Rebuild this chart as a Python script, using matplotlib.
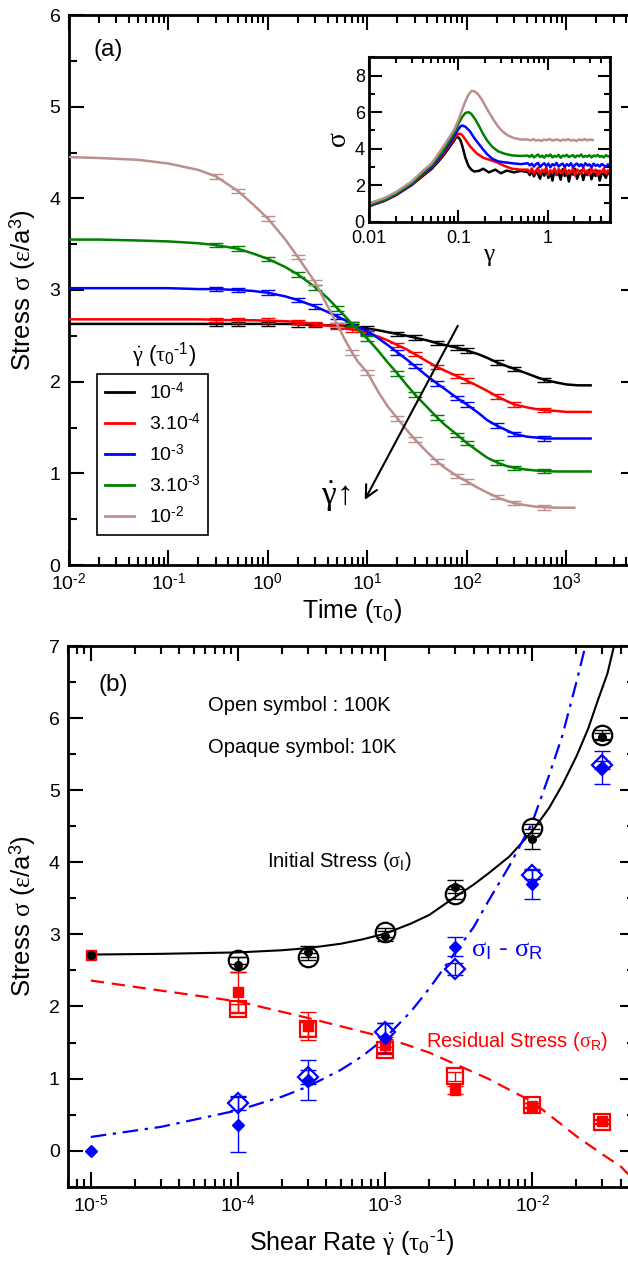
import numpy as np
import matplotlib
matplotlib.use("Agg")
import matplotlib.pyplot as plt
from matplotlib.ticker import (LogLocator, MultipleLocator, NullFormatter,
                               FixedLocator, FixedFormatter, FuncFormatter)

plt.rcParams.update({
    "font.family": ["Liberation Sans", "DejaVu Sans"],
    "mathtext.fontset": "custom",
    "mathtext.rm": "Liberation Sans",
    "mathtext.it": "Liberation Serif",
    "mathtext.bf": "Liberation Sans:bold",
    "axes.unicode_minus": False,
})

HY = "\u2010"  # short hyphen used in exponents

# ---------------------------------------------------------------- panel (a)
TIME = [0.01, 0.02, 0.05, 0.1, 0.2, 0.3, 0.5, 0.7, 1, 1.5, 2, 3, 4, 5, 6, 7, 8,
        10, 13, 16, 20, 25, 30, 40, 50, 60, 80, 100, 130, 160, 200, 250, 300,
        400, 500, 600, 800, 1000, 1300, 1750]
TIME_1E2 = [0.01, 0.02, 0.05, 0.1, 0.2, 0.3, 0.5, 0.7, 1, 1.5, 2, 3, 4, 5, 6, 7, 8,
            10, 13, 16, 20, 25, 30, 40, 50, 60, 80, 100, 130, 160, 200, 250, 300,
            400, 500, 600, 800, 1000, 1200]

STRESS_1E4 = [2.63, 2.63, 2.63, 2.63, 2.63, 2.63, 2.63, 2.63, 2.63, 2.63, 2.625,
              2.62, 2.615, 2.61, 2.605, 2.60, 2.595, 2.58, 2.56, 2.54, 2.52, 2.50,
              2.48, 2.45, 2.42, 2.40, 2.37, 2.34, 2.30, 2.26, 2.21, 2.17, 2.14,
              2.09, 2.05, 2.02, 1.99, 1.97, 1.96, 1.96]
STRESS_3E4 = [2.68, 2.68, 2.68, 2.68, 2.68, 2.675, 2.67, 2.67, 2.665, 2.66, 2.65,
              2.63, 2.61, 2.60, 2.58, 2.57, 2.56, 2.53, 2.49, 2.45, 2.40, 2.35,
              2.30, 2.22, 2.16, 2.12, 2.06, 2.01, 1.95, 1.90, 1.84, 1.79, 1.75,
              1.72, 1.70, 1.69, 1.68, 1.67, 1.67, 1.67]
STRESS_1E3 = [3.02, 3.02, 3.02, 3.02, 3.01, 3.01, 3.00, 2.99, 2.97, 2.93, 2.89,
              2.82, 2.76, 2.71, 2.67, 2.63, 2.60, 2.55, 2.47, 2.40, 2.32, 2.24,
              2.17, 2.06, 1.98, 1.92, 1.82, 1.75, 1.66, 1.58, 1.52, 1.47, 1.43,
              1.40, 1.39, 1.38, 1.38, 1.38, 1.38, 1.38]
STRESS_3E3 = [3.55, 3.55, 3.54, 3.53, 3.51, 3.49, 3.45, 3.40, 3.34, 3.25, 3.17,
              3.03, 2.91, 2.80, 2.71, 2.63, 2.57, 2.47, 2.33, 2.21, 2.09, 1.96,
              1.86, 1.72, 1.61, 1.53, 1.42, 1.33, 1.24, 1.17, 1.12, 1.08, 1.06,
              1.04, 1.03, 1.025, 1.02, 1.02, 1.02, 1.02]
STRESS_1E2 = [4.45, 4.44, 4.42, 4.38, 4.31, 4.24, 4.08, 3.94, 3.78, 3.55, 3.36,
              3.08, 2.82, 2.62, 2.45, 2.32, 2.22, 2.10, 1.88, 1.73, 1.60, 1.47,
              1.37, 1.23, 1.13, 1.06, 0.97, 0.91, 0.84, 0.79, 0.74, 0.70, 0.675,
              0.65, 0.635, 0.63, 0.625, 0.625, 0.625]

ERR_TIMES = [0.3, 0.5, 1, 2, 3, 5, 7, 10, 20, 30, 50, 80, 100, 200, 300, 600]
ERR_A = 0.025

RATE_LABELS = [r"10$^{%s4}$" % HY, r"3.10$^{%s4}$" % HY, r"10$^{%s3}$" % HY,
               r"3.10$^{%s3}$" % HY, r"10$^{%s2}$" % HY]
RATE_COLORS = ["black", "#ff0000", "#0000ff", "#008000", "#bc8f8f"]

# ---------------------------------------------------------------- inset
GAMMA_RISE = [0.01, 0.015, 0.02, 0.03, 0.04, 0.05, 0.06, 0.07, 0.08, 0.09]

RISE_1E4 = [0.85, 1.15, 1.45, 2.00, 2.50, 2.88, 3.30, 3.70, 4.10, 4.45]
RISE_3E4 = [0.85, 1.15, 1.47, 2.02, 2.55, 2.95, 3.38, 3.80, 4.20, 4.55]
RISE_1E3 = [0.87, 1.17, 1.50, 2.05, 2.60, 3.00, 3.45, 3.90, 4.30, 4.70]
RISE_3E3 = [0.90, 1.20, 1.53, 2.10, 2.65, 3.08, 3.55, 4.00, 4.45, 4.85]
RISE_1E2 = [1.00, 1.30, 1.62, 2.20, 2.78, 3.18, 3.72, 4.20, 4.65, 5.05]

PEAK_G_1E4 = [0.093, 0.097, 0.10, 0.105, 0.11, 0.115, 0.12, 0.13, 0.14, 0.15,
              0.17, 0.19, 0.22, 0.26, 0.30, 0.35, 0.42, 0.50]
PEAK_S_1E4 = [4.58, 4.63, 4.62, 4.50, 4.20, 3.85, 3.50, 3.05, 2.85, 2.75, 2.78,
              2.90, 2.70, 2.85, 2.65, 2.80, 2.70, 2.78]
PEAK_G_3E4 = [0.095, 0.10, 0.105, 0.11, 0.12, 0.13, 0.14, 0.16, 0.19, 0.22,
              0.27, 0.33, 0.40, 0.50]
PEAK_S_3E4 = [4.70, 4.80, 4.82, 4.75, 4.50, 4.25, 4.05, 3.75, 3.50, 3.40, 3.25,
              3.05, 2.90, 2.85]
PEAK_G_1E3 = [0.10, 0.105, 0.11, 0.12, 0.135, 0.15, 0.17, 0.19, 0.21, 0.24,
              0.28, 0.33, 0.40, 0.50]
PEAK_S_1E3 = [5.05, 5.20, 5.27, 5.20, 4.95, 4.60, 4.25, 3.95, 3.70, 3.45, 3.30,
              3.25, 3.20, 3.15]
PEAK_G_3E3 = [0.10, 0.11, 0.12, 0.13, 0.14, 0.155, 0.17, 0.19, 0.21, 0.24,
              0.28, 0.33, 0.40, 0.50]
PEAK_S_3E3 = [5.35, 5.72, 5.95, 6.00, 5.90, 5.60, 5.25, 4.80, 4.45, 4.10, 3.85,
              3.72, 3.63, 3.60]
PEAK_G_1E2 = [0.095, 0.10, 0.11, 0.12, 0.13, 0.14, 0.15, 0.165, 0.18, 0.20,
              0.22, 0.25, 0.28, 0.32, 0.36, 0.42, 0.50]
PEAK_S_1E2 = [5.30, 5.55, 6.10, 6.60, 6.95, 7.15, 7.15, 7.00, 6.75, 6.35, 6.00,
              5.55, 5.20, 4.90, 4.72, 4.58, 4.50]

# steady-state (noisy) part of the stress-strain curves
FLOW_1E4 = [2.72, 2.55, 2.80, 2.48, 2.75, 2.60, 2.35, 2.78, 2.52, 2.85, 2.40,
            2.70, 2.25, 2.82, 2.55, 2.68, 2.30, 2.88, 2.50, 2.75, 2.20, 2.70,
            2.58, 2.90, 2.35, 2.65, 2.80, 2.28, 2.72, 2.55, 2.85, 2.32, 2.68,
            2.50, 2.78, 2.25, 2.70, 2.60, 2.40, 2.80, 2.55]
FLOW_3E4 = [2.85, 2.70, 2.92, 2.62, 2.80, 2.95, 2.60, 2.85, 2.72, 2.98, 2.55,
            2.82, 2.70, 2.92, 2.58, 2.88, 2.75, 2.65, 2.95, 2.60, 2.82, 2.70,
            2.90, 2.52, 2.85, 2.78, 2.62, 2.95, 2.68, 2.80, 2.58, 2.90, 2.72,
            2.85, 2.55, 2.80, 2.70, 2.92, 2.62, 2.78, 2.70]
FLOW_1E3 = [3.20, 3.08, 3.18, 3.02, 3.15, 3.22, 3.00, 3.12, 3.20, 3.05, 3.18,
            2.98, 3.15, 3.08, 3.22, 3.02, 3.12, 3.18, 3.00, 3.15, 3.06, 3.20,
            2.98, 3.12, 3.18, 3.04, 3.15, 3.00, 3.20, 3.08, 3.14, 2.98, 3.18,
            3.06, 3.12, 3.02, 3.16, 3.08, 3.00, 3.14, 3.08]
FLOW_3E3 = [3.62, 3.55, 3.66, 3.52, 3.60, 3.68, 3.54, 3.62, 3.50, 3.64, 3.58,
            3.68, 3.52, 3.60, 3.56, 3.66, 3.50, 3.62, 3.58, 3.66, 3.54, 3.60,
            3.64, 3.52, 3.62, 3.58, 3.68, 3.54, 3.60, 3.56, 3.64, 3.52, 3.62,
            3.58, 3.66, 3.55, 3.60, 3.52, 3.64, 3.58, 3.56]
FLOW_1E2 = [4.50, 4.45, 4.52, 4.44, 4.48, 4.42, 4.50, 4.46, 4.53, 4.44, 4.48,
            4.50, 4.43, 4.49, 4.46, 4.52, 4.44, 4.48, 4.42, 4.50, 4.46, 4.52,
            4.45, 4.50, 4.47]
FLOW_GAMMA = np.geomspace(0.6, 5.0, len(FLOW_1E4))
FLOW_GAMMA_1E2 = np.geomspace(0.6, 3.2, len(FLOW_1E2))

# ---------------------------------------------------------------- panel (b)
RATE_OPEN = [1e-4, 3e-4, 1e-3, 3e-3, 1e-2, 3e-2]
RATE_FILLED = [1e-5, 1e-4, 3e-4, 1e-3, 3e-3, 1e-2, 3e-2]

SIG_I_OPEN = [2.64, 2.69, 3.03, 3.56, 4.47, 5.77]
SIG_I_OPEN_ERR = [0.05, 0.05, 0.06, 0.07, 0.06, 0.06]
SIG_I_FILLED = [2.72, 2.58, 2.76, 2.98, 3.66, 4.32, 5.74]
SIG_I_FILLED_ERR = [0.0, 0.10, 0.08, 0.07, 0.09, 0.14, 0.05]

SIG_R_OPEN = [1.97, 1.69, 1.39, 1.03, 0.635, 0.40]
SIG_R_OPEN_ERR = [0.06, 0.10, 0.05, 0.06, 0.03, 0.03]
SIG_R_FILLED = [2.72, 2.20, 1.73, 1.47, 0.84, 0.625, 0.41]
SIG_R_FILLED_ERR = [0.0, 0.28, 0.20, 0.10, 0.05, 0.03, 0.03]

DIFF_OPEN = [0.66, 1.02, 1.64, 2.52, 3.83, 5.35]
DIFF_OPEN_ERR = [0.10, 0.10, 0.13, 0.08, 0.06, 0.06]
DIFF_FILLED = [0.0, 0.36, 0.98, 1.56, 2.83, 3.70, 5.32]
DIFF_FILLED_ERR = [0.0, 0.38, 0.28, 0.21, 0.13, 0.21, 0.23]

FIT_I_RATE = [1e-5, 3e-5, 1e-4, 2e-4, 3e-4, 5e-4, 7e-4, 1e-3, 1.5e-3, 2e-3,
              3e-3, 4e-3, 5e-3, 7e-3, 1e-2, 1.3e-2, 1.6e-2, 2e-2, 2.4e-2,
              2.8e-2, 3.25e-2, 3.6e-2]
FIT_I = [2.72, 2.73, 2.75, 2.78, 2.81, 2.87, 2.93, 3.01, 3.15, 3.27, 3.52,
         3.69, 3.84, 4.08, 4.43, 4.75, 5.07, 5.47, 5.85, 6.25, 6.62, 7.0]
FIT_D_RATE = [1e-5, 3e-5, 1e-4, 2e-4, 3e-4, 5e-4, 7e-4, 1e-3, 1.5e-3, 2e-3,
              3e-3, 4e-3, 5e-3, 7e-3, 1e-2, 1.3e-2, 1.6e-2, 2e-2, 2.3e-2]
FIT_D = [0.19, 0.33, 0.56, 0.75, 0.89, 1.12, 1.31, 1.56, 1.93, 2.25, 2.75,
         3.10, 3.45, 3.95, 4.55, 5.20, 5.75, 6.50, 7.00]
FIT_R_RATE = [1e-5, 3e-5, 1e-4, 3e-4, 1e-3, 2e-3, 3e-3, 5e-3, 1e-2, 1.5e-2,
              2e-2, 3e-2, 4e-2, 5e-2]
FIT_R = [2.36, 2.22, 2.07, 1.84, 1.57, 1.36, 1.20, 1.00, 0.68, 0.40, 0.20,
         -0.05, -0.22, -0.42]

# ---------------------------------------------------------------- layout
W, H = 628, 1264
fig = plt.figure(figsize=(W / 100, H / 100), dpi=100)


def box(x0, y0, x1, y1):
    return [x0 / W, 1 - y1 / H, (x1 - x0) / W, (y1 - y0) / H]


ax_a = fig.add_axes(box(68.8, 15, 636, 565))
ax_in = fig.add_axes(box(369, 57.3, 610, 221.7))
ax_b = fig.add_axes(box(68, 646, 635, 1186.7))


def decade_label(v, pos):
    e = int(round(np.log10(v)))
    return r"10$^{%s}$" % ((HY + str(-e)) if e < 0 else str(e))


def style_axes(ax, major_len=11, minor_len=5.5, lw=2.0, size=14):
    for sp in ax.spines.values():
        sp.set_linewidth(lw)
    ax.tick_params(which="both", direction="in", top=True, right=True,
                   width=1.5, labelsize=size, pad=6)
    ax.tick_params(which="major", length=major_len)
    ax.tick_params(which="minor", length=minor_len)


STRESS_LABEL = r"Stress $\sigma$ ($\varepsilon$/a$^{3}$)"

# ---- panel (a)
curves_a = [(TIME, STRESS_1E4), (TIME, STRESS_3E4), (TIME, STRESS_1E3),
            (TIME, STRESS_3E3), (TIME_1E2, STRESS_1E2)]
handles = []
for (ts, ss), col in zip(curves_a, RATE_COLORS):
    ln, = ax_a.plot(ts, ss, color=col, lw=1.8, zorder=3)
    handles.append(ln)
    sel = [(t, s) for t, s in zip(ts, ss) if t in ERR_TIMES]
    et, es = zip(*sel)
    ax_a.errorbar(et, es, yerr=ERR_A, fmt="none", ecolor=col, elinewidth=1.0,
                  capsize=5, capthick=1.0, zorder=3)

ax_a.set_xscale("log")
ax_a.set_xlim(0.01, 5000)
ax_a.set_ylim(0, 6)
ax_a.xaxis.set_major_locator(LogLocator(base=10, numticks=20))
ax_a.xaxis.set_major_formatter(FuncFormatter(decade_label))
ax_a.xaxis.set_minor_locator(LogLocator(base=10, subs=np.arange(2, 10), numticks=40))
ax_a.xaxis.set_minor_formatter(NullFormatter())
ax_a.yaxis.set_major_locator(MultipleLocator(1))
ax_a.yaxis.set_minor_locator(MultipleLocator(0.5))
style_axes(ax_a)
ax_a.set_xlabel(r"Time ($\tau_0$)", fontsize=18, labelpad=2)
ax_a.set_ylabel(STRESS_LABEL, fontsize=18.5, labelpad=8)
ax_a.text(0.044, 0.936, "(a)", transform=ax_a.transAxes, fontsize=17.5,
          va="center", ha="left")

leg = ax_a.legend(handles, RATE_LABELS, loc="upper left",
                  bbox_to_anchor=(0.0497, 0.347), frameon=True, fancybox=False,
                  edgecolor="black", framealpha=1, fontsize=14,
                  handlelength=1.5, handletextpad=0.75, borderpad=0.4,
                  labelspacing=0.5, borderaxespad=0)
leg.get_frame().set_linewidth(1.2)
for h in leg.legend_handles:
    h.set_linewidth(2.0)
ax_a.text(0.168, 0.382, r"$\dot{\gamma}$ ($\tau_0$$^{%s1}$)" % HY,
          transform=ax_a.transAxes, ha="center", va="center", fontsize=16)

ax_a.annotate("", xy=(9.4, 0.71), xytext=(81, 2.61),
              arrowprops=dict(arrowstyle="->", lw=1.5, color="black",
                              mutation_scale=22, shrinkA=0, shrinkB=0))
ax_a.text(4.8, 0.74, r"$\dot{\gamma}\!\uparrow$", fontsize=24,
          ha="center", va="center")

# ---- inset
inset_curves = [
    (RISE_1E4, PEAK_G_1E4, PEAK_S_1E4, FLOW_GAMMA, FLOW_1E4),
    (RISE_3E4, PEAK_G_3E4, PEAK_S_3E4, FLOW_GAMMA, FLOW_3E4),
    (RISE_1E3, PEAK_G_1E3, PEAK_S_1E3, FLOW_GAMMA, FLOW_1E3),
    (RISE_3E3, PEAK_G_3E3, PEAK_S_3E3, FLOW_GAMMA, FLOW_3E3),
    (RISE_1E2, PEAK_G_1E2, PEAK_S_1E2, FLOW_GAMMA_1E2, FLOW_1E2),
]
for (rise, pg, ps, fg, fs), col in zip(inset_curves, RATE_COLORS):
    g = list(GAMMA_RISE) + list(pg) + list(fg)
    s = list(rise) + list(ps) + list(fs)
    ax_in.plot(g, s, color=col, lw=1.8)

ax_in.set_xscale("log")
ax_in.set_xlim(0.01, 5)
ax_in.set_ylim(0, 9)
ax_in.xaxis.set_major_locator(FixedLocator([0.01, 0.1, 1]))
ax_in.xaxis.set_major_formatter(FixedFormatter(["0.01", "0.1", "1"]))
ax_in.xaxis.set_minor_locator(LogLocator(base=10, subs=np.arange(2, 10), numticks=40))
ax_in.xaxis.set_minor_formatter(NullFormatter())
ax_in.yaxis.set_major_locator(MultipleLocator(2))
ax_in.yaxis.set_minor_locator(MultipleLocator(1))
style_axes(ax_in, major_len=9, minor_len=4.5, lw=2.0, size=13)
ax_in.tick_params(axis="y", pad=3)
ax_in.tick_params(axis="x", pad=6)
ax_in.set_xlabel(r"$\gamma$", fontsize=18, labelpad=-2)
ax_in.set_ylabel(r"$\sigma$", fontsize=20, labelpad=2)

# ---- panel (b)
ax_b.plot(FIT_I_RATE, FIT_I, color="black", lw=1.5, zorder=2)
ax_b.plot(FIT_D_RATE, FIT_D, color="#0000ff", lw=1.6, ls=(0, (7, 3, 1.5, 3)),
          zorder=2)
ax_b.plot(FIT_R_RATE, FIT_R, color="#ff0000", lw=1.6, ls=(0, (6, 3.5)), zorder=2)


def err(ax, xs, ys, es, col):
    sel = [(x, y, e) for x, y, e in zip(xs, ys, es) if e > 0]
    xx, yy, ee = zip(*sel)
    ax.errorbar(xx, yy, yerr=ee, fmt="none", ecolor=col, elinewidth=1.0,
                capsize=5.5, capthick=1.0, zorder=3)


err(ax_b, RATE_OPEN, SIG_I_OPEN, SIG_I_OPEN_ERR, "black")
err(ax_b, RATE_FILLED, SIG_I_FILLED, SIG_I_FILLED_ERR, "black")
err(ax_b, RATE_OPEN, SIG_R_OPEN, SIG_R_OPEN_ERR, "#ff0000")
err(ax_b, RATE_FILLED, SIG_R_FILLED, SIG_R_FILLED_ERR, "#ff0000")
err(ax_b, RATE_OPEN, DIFF_OPEN, DIFF_OPEN_ERR, "#0000ff")
err(ax_b, RATE_FILLED, DIFF_FILLED, DIFF_FILLED_ERR, "#0000ff")

ax_b.plot(RATE_OPEN, SIG_I_OPEN, "o", ms=14, mfc="none", mec="black",
          mew=1.6, zorder=4)
ax_b.plot(RATE_OPEN, SIG_R_OPEN, "s", ms=11.5, mfc="none", mec="#ff0000",
          mew=1.6, zorder=4)
ax_b.plot(RATE_OPEN, DIFF_OPEN, "D", ms=10, mfc="none", mec="#0000ff",
          mew=1.6, zorder=4)
ax_b.plot(RATE_FILLED, SIG_R_FILLED, "s", ms=7, color="#ff0000", zorder=5)
ax_b.plot(RATE_FILLED, SIG_I_FILLED, "o", ms=5.5, color="black", zorder=6)
ax_b.plot(RATE_FILLED, DIFF_FILLED, "D", ms=6, color="#0000ff", zorder=5)

ax_b.set_xscale("log")
ax_b.set_xlim(7e-6, 0.05)
ax_b.set_ylim(-0.5, 7)
ax_b.xaxis.set_major_locator(LogLocator(base=10, numticks=20))
ax_b.xaxis.set_major_formatter(FuncFormatter(decade_label))
ax_b.xaxis.set_minor_locator(LogLocator(base=10, subs=np.arange(2, 10), numticks=40))
ax_b.xaxis.set_minor_formatter(NullFormatter())
ax_b.yaxis.set_major_locator(MultipleLocator(1))
ax_b.yaxis.set_minor_locator(MultipleLocator(0.5))
style_axes(ax_b)
ax_b.set_xlabel(r"Shear Rate $\dot{\gamma}$ ($\tau_0$$^{%s1}$)" % HY,
                fontsize=18, labelpad=8)
ax_b.set_ylabel(STRESS_LABEL, fontsize=18.5, labelpad=8)
ax_b.text(0.053, 0.928, "(b)", transform=ax_b.transAxes, fontsize=17.5,
          va="center", ha="left")

ax_b.text(6.27e-5, 6.18, "Open symbol : 100K", fontsize=14.5, va="center")
ax_b.text(6.27e-5, 5.59, "Opaque symbol: 10K", fontsize=14.5, va="center")
ax_b.text(1.58e-4, 4.01, r"Initial Stress ($\sigma_\mathrm{I}$)", fontsize=14.5,
          va="center")
ax_b.text(3.85e-3, 2.79, r"$\sigma_\mathrm{I}$ - $\sigma_\mathrm{R}$",
          fontsize=19, va="center", color="#0000ff")
ax_b.text(1.9e-3, 1.51, r"Residual Stress ($\sigma_\mathrm{R}$)", fontsize=14.5,
          va="center", color="#ff0000")

fig.savefig("out.png", dpi=100)
